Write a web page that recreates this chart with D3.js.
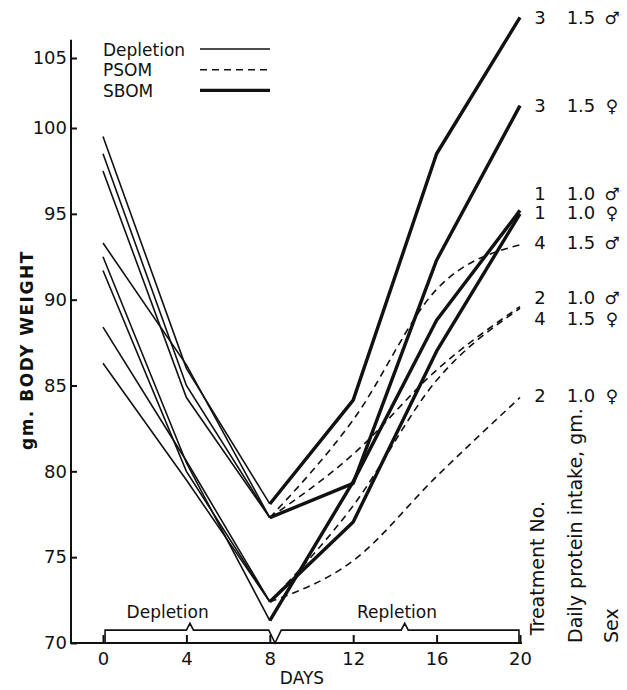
<!DOCTYPE html>
<html><head><meta charset="utf-8">
<script src="https://cdn.jsdelivr.net/npm/d3@7"></script>
<style>
body{margin:0;background:#fff;}
text{font-family:"DejaVu Sans",sans-serif;fill:#111;}
</style></head>
<body><svg id="c" width="627" height="690"></svg>
<script>
// ---- data ----
const depletionDays = [0, 4, 8];
const repletionDays = [8, 12, 16, 20];
const xTicks = [0, 4, 8, 12, 16, 20];
const yTicks = [70, 75, 80, 85, 90, 95, 100, 105];
const treatments = ["3", "3", "1", "1", "4", "2", "4", "2"];
const proteinIntake = ["1.5", "1.5", "1.0", "1.0", "1.5", "1.0", "1.5", "1.0"];
const sexes = ["♂", "♀", "♂", "♀", "♂", "♂", "♀", "♀"];
const diets = ["SBOM", "SBOM", "SBOM", "SBOM", "PSOM", "PSOM", "PSOM", "PSOM"];
const depletionWeights = [
  [99.5, 86.0, 78.1],
  [93.3, 86.2, 77.3],
  [92.5, 80.5, 71.3],
  [91.7, 80.0, 72.4],
  [98.5, 85.0, 77.3],
  [97.5, 84.3, 77.3],
  [88.4, 80.6, 72.4],
  [86.3, 79.5, 72.4]
];
const repletionWeights = [
  [78.1, 84.15, 98.5, 107.9],
  [77.3, 79.3, 92.3, 101.6],
  [71.3, 79.4, 88.8, 95.2],
  [72.4, 77.05, 87.0, 95.0],
  [77.3, 83.0, 90.6, 93.2],
  [77.3, 81.0, 85.9, 89.6],
  [72.4, 78.0, 85.3, 89.5],
  [72.4, 74.8, 79.7, 84.3]
];
const labelLevels = [107.9, 101.6, 96.2, 95.05, 93.35, 90.1, 88.9, 84.4];
const legendItems = ["Depletion", "PSOM", "SBOM"];
const phaseLabels = ["Depletion", "Repletion"];
const phaseCenters = [3.1, 14.1];
const columnTitles = ["Treatment  No.", "Daily protein intake, gm.", "Sex"];

// ---- scales ----
const x = d3.scaleLinear().domain([0, 20]).range([103, 520]);
const y = d3.scaleLinear().domain([70, 100, 105]).range([643, 128, 58]);
const svg = d3.select("#c");
const ink = "#111";

// axes
const yAxis = d3.axisLeft(y).tickValues(yTicks).tickSize(-6).tickPadding(4).tickFormat(d3.format("d"));
const gy = svg.append("g").attr("transform", `translate(${71},0)`).call(yAxis);
gy.select(".domain").remove();
gy.selectAll("line").attr("stroke", ink).attr("stroke-width", 2);
gy.selectAll("text").style("font-size", "18px").attr("fill", ink);
svg.append("line").attr("x1", 71).attr("x2", 71).attr("y1", y(70)).attr("y2", y(106.3))
  .attr("stroke", ink).attr("stroke-width", 2);

const xAxis = d3.axisBottom(x).tickValues(xTicks).tickSize(-8).tickPadding(9).tickFormat(d3.format("d"));
const gx = svg.append("g").attr("transform", `translate(0,${y(70)})`).call(xAxis);
gx.select(".domain").remove();
gx.selectAll("line").attr("stroke", ink).attr("stroke-width", 2);
gx.selectAll("text").style("font-size", "18px").attr("fill", ink);
svg.append("line").attr("x1", 70).attr("x2", x(20) + 2).attr("y1", y(70)).attr("y2", y(70))
  .attr("stroke", ink).attr("stroke-width", 2.2);

// axis titles
svg.append("text").attr("transform", `translate(28,${y(87.06)}) rotate(-90)`)
  .attr("text-anchor", "middle").attr("dominant-baseline", "middle")
  .style("font-size", "17px").style("font-weight", "bold").style("letter-spacing", "1.5px")
  .text("gm. BODY WEIGHT");
svg.append("text").attr("x", 302).attr("y", 684).attr("text-anchor", "middle")
  .style("font-size", "17px").text("DAYS");

// phase bracket
const by = y(70.75), bt = y(71.15);
const bracket = d3.path();
bracket.moveTo(x(0.1), y(70)); bracket.lineTo(x(0.1), by);
bracket.lineTo(x(4.0), by); bracket.lineTo(x(4.17), bt); bracket.lineTo(x(4.34), by);
bracket.lineTo(x(7.95), by); bracket.lineTo(x(8.25), y(70)); bracket.lineTo(x(8.55), by);
bracket.lineTo(x(14.3), by); bracket.lineTo(x(14.47), bt); bracket.lineTo(x(14.64), by);
bracket.lineTo(x(19.95), by); bracket.lineTo(x(19.95), y(70));
svg.append("path").attr("d", bracket.toString()).attr("fill", "none")
  .attr("stroke", ink).attr("stroke-width", 1.6);
svg.selectAll(".phase").data(phaseLabels).join("text")
  .attr("x", (d, i) => x(phaseCenters[i])).attr("y", y(71.45))
  .attr("text-anchor", "middle").style("font-size", "17px").text(d => d);

// lines
const line = d3.line().x(d => x(d[0])).y(d => y(d[1]));
const curved = d3.line().x(d => x(d[0])).y(d => y(d[1])).curve(d3.curveMonotoneX);
depletionWeights.forEach(w => {
  svg.append("path").attr("d", line(depletionDays.map((d, i) => [d, w[i]])))
    .attr("fill", "none").attr("stroke", ink).attr("stroke-width", 1.6);
});
repletionWeights.forEach((w, k) => {
  const pts = repletionDays.map((d, i) => [d, w[i]]);
  const isS = diets[k] === "SBOM";
  svg.append("path").attr("d", isS ? line(pts) : curved(pts))
    .attr("fill", "none").attr("stroke", ink)
    .attr("stroke-width", isS ? 3.4 : 1.6)
    .attr("stroke-dasharray", isS ? null : "7,5")
    .attr("stroke-linejoin", "round");
});

// legend
const lg = svg.append("g");
legendItems.forEach((name, i) => {
  const ly = 49 + i * 20.7;
  lg.append("text").attr("x", 103).attr("y", ly + 6.5).style("font-size", "17px").text(name);
  lg.append("line").attr("x1", 200).attr("x2", 270).attr("y1", ly).attr("y2", ly)
    .attr("stroke", ink)
    .attr("stroke-width", name === "SBOM" ? 3.2 : 1.6)
    .attr("stroke-dasharray", name === "PSOM" ? "7,5" : null);
});

// right labels
treatments.forEach((t, k) => {
  const ly = y(labelLevels[k]) + 6.5;
  svg.append("text").attr("x", 540).attr("y", ly).attr("text-anchor", "middle").style("font-size", "18px").text(t);
  svg.append("text").attr("x", 581).attr("y", ly).attr("text-anchor", "middle").style("font-size", "18px").text(proteinIntake[k]);
  svg.append("text").attr("x", 612).attr("y", ly).attr("text-anchor", "middle").style("font-size", "17px").style("font-weight", "bold").text(sexes[k]);
});
const colX = [544, 582, 618];
const colBase = [y(70.45), y(70), y(70)];
columnTitles.forEach((t, i) => {
  svg.append("text").attr("transform", `translate(${colX[i]},${colBase[i]}) rotate(-90)`)
    .attr("text-anchor", "start").style("font-size", "19px").text(t);
});
</script></body></html>
